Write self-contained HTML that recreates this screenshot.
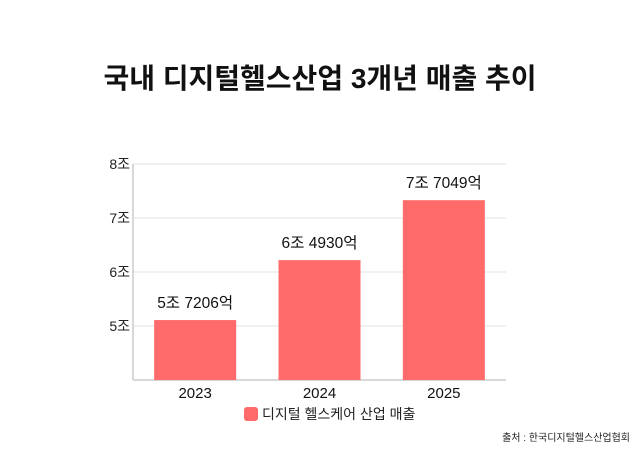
<!DOCTYPE html>
<html><head><meta charset="utf-8"><style>
body{margin:0;background:#fff;width:640px;height:453px;overflow:hidden;font-family:"Liberation Sans","Noto Sans CJK KR",sans-serif;}
</style></head><body>
<svg width="640" height="453" style="font-family:'Liberation Sans','Noto Sans CJK KR',sans-serif">
<text x="320" y="88" text-anchor="middle" font-size="28" font-weight="bold" fill="#111">국내 디지털헬스산업 3개년 매출 추이</text>
<g id="grid"></g><g id="bars"></g><g id="labels"></g>
<rect x="244" y="407" width="14" height="14" rx="3" fill="#ff6b6b"/>
<text x="262" y="419" font-size="14" fill="#222">디지털 헬스케어 산업 매출</text>
<text x="630" y="441" text-anchor="end" font-size="10" fill="#222">출처 : 한국디지털헬스산업협회</text>
</svg>
<script>
const categories=["2023","2024","2025"];
const values=[5.11,6.22,7.33];
const valueLabels=["5조 7206억","6조 4930억","7조 7049억"];
const yTicks=[5,6,7,8];
const yTickLabels=["5조","6조","7조","8조"];
const NS="http://www.w3.org/2000/svg";
const L=133,R=506,T=164,B=380,yMin=4,yMax=8;
const y=v=>B-(v-yMin)/(yMax-yMin)*(B-T);
const band=(R-L)/categories.length;
const x=i=>L+band*(i+0.5);
function mk(tag,attrs,parent,text){const e=document.createElementNS(NS,tag);for(const k in attrs)e.setAttribute(k,attrs[k]);if(text!=null)e.textContent=text;document.getElementById(parent).appendChild(e);return e;}
yTicks.forEach((t,i)=>{
  const g=mk('line',{x1:L,x2:R,y1:y(t),y2:y(t),stroke:'#e2e2e2','stroke-width':1},'grid');
  
  
  const tx=mk('text',{x:L-3,y:y(t)+5,'text-anchor':'end','font-size':14,fill:'#222'},'labels',yTickLabels[i]);
  
  
});
const ax=mk('line',{x1:L,x2:R,y1:B,y2:B,stroke:'#ccc','stroke-width':1.5},'grid');


const ay=mk('line',{x1:L,x2:L,y1:T,y2:B,stroke:'#ccc','stroke-width':1.5},'grid');


const bw=82;
categories.forEach((c,i)=>{
  const b=mk('rect',{x:x(i)-bw/2,y:y(values[i]),width:bw,height:B-y(values[i]),fill:'#ff6b6b'},'bars');
  
  
  const vl=mk('text',{x:x(i),y:y(values[i])-12,'text-anchor':'middle','font-size':15.5,fill:'#111'},'labels',valueLabels[i]);
  
  
  const cl=mk('text',{x:x(i),y:B+18,'text-anchor':'middle','font-size':15,fill:'#111'},'labels',c);
  
  
});
</script>
</body></html>
